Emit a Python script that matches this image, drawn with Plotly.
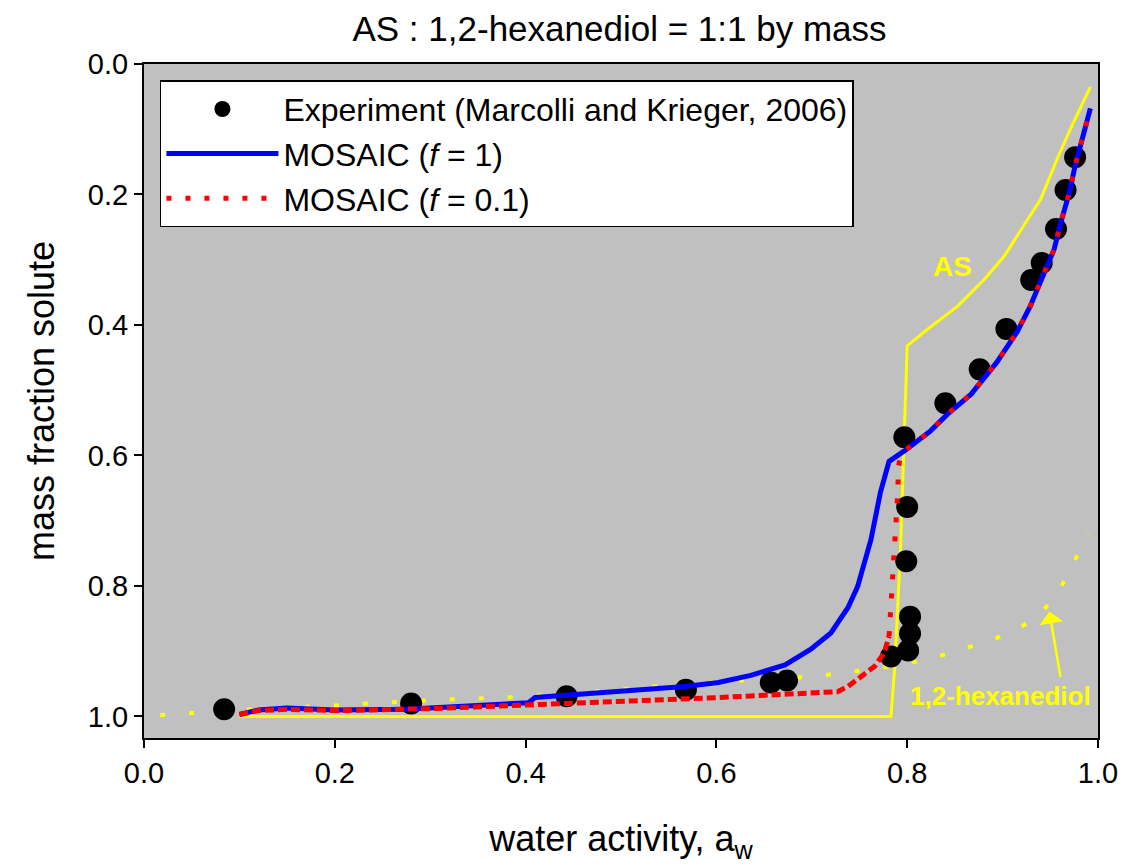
import plotly.graph_objects as go

# Experimental data (Marcolli and Krieger, 2006)
exp_aw = [0.084, 0.280, 0.443, 0.568, 0.657, 0.674, 0.783, 0.797, 0.800, 0.799,
          0.803, 0.803, 0.801, 0.840, 0.876, 0.904, 0.930, 0.941, 0.956, 0.966, 0.976]
exp_mf = [0.989, 0.980, 0.969, 0.959, 0.948, 0.945, 0.908, 0.572, 0.679, 0.762,
          0.847, 0.873, 0.899, 0.520, 0.468, 0.406, 0.331, 0.305, 0.253, 0.193, 0.143]

# MOSAIC f = 1
f1_aw = [0.100, 0.120, 0.150, 0.180, 0.200, 0.275, 0.344, 0.403, 0.410, 0.463, 0.532,
         0.567, 0.602, 0.636, 0.672, 0.699, 0.720, 0.738, 0.748, 0.762, 0.772, 0.781,
         0.797, 0.824, 0.842, 0.867, 0.894, 0.915, 0.929, 0.941, 0.954, 0.961, 0.970,
         0.976, 0.985, 0.992]
f1_mf = [0.997, 0.990, 0.987, 0.989, 0.990, 0.989, 0.984, 0.979, 0.971, 0.965, 0.957,
         0.954, 0.948, 0.937, 0.921, 0.897, 0.872, 0.833, 0.801, 0.729, 0.656, 0.609,
         0.593, 0.563, 0.537, 0.506, 0.457, 0.411, 0.371, 0.330, 0.284, 0.243, 0.197,
         0.156, 0.110, 0.068]

# MOSAIC f = 0.1 (lower branch, drawn dashed)
f01_low_aw = [0.100, 0.120, 0.150, 0.200, 0.300, 0.393, 0.497, 0.602, 0.672, 0.727,
              0.738, 0.748, 0.766, 0.776, 0.781]
f01_low_mf = [0.997, 0.991, 0.989, 0.991, 0.988, 0.982, 0.977, 0.971, 0.966, 0.962,
              0.954, 0.943, 0.923, 0.902, 0.877]
# MOSAIC f = 0.1 (upper branch, drawn dotted)
f01_high_aw = [0.781, 0.783, 0.785, 0.787, 0.788, 0.790, 0.791, 0.793, 0.797, 0.824,
               0.842, 0.867, 0.894, 0.915, 0.929, 0.941, 0.954, 0.961, 0.970, 0.976,
               0.985, 0.992]
f01_high_mf = [0.877, 0.833, 0.790, 0.744, 0.702, 0.660, 0.616, 0.600, 0.593, 0.563,
               0.537, 0.506, 0.457, 0.411, 0.371, 0.330, 0.284, 0.243, 0.197, 0.156,
               0.110, 0.068]

# Pure AS
as_aw = [0.100, 0.783, 0.787, 0.793, 0.797, 0.800, 0.821, 0.839, 0.853, 0.881, 0.902,
         0.922, 0.940, 0.957, 0.971, 0.992]
as_mf = [1.000, 1.000, 0.923, 0.744, 0.564, 0.432, 0.407, 0.386, 0.371, 0.330, 0.294,
         0.248, 0.207, 0.146, 0.100, 0.035]

# Pure 1,2-hexanediol
hx_aw = [0.017, 0.100, 0.200, 0.300, 0.380, 0.470, 0.550, 0.600, 0.700, 0.750, 0.800,
         0.830, 0.860, 0.890, 0.915, 0.940, 0.960, 0.975, 0.990]
hx_mf = [0.998, 0.990, 0.983, 0.975, 0.971, 0.962, 0.952, 0.947, 0.939, 0.930, 0.919,
         0.909, 0.896, 0.882, 0.867, 0.843, 0.805, 0.764, 0.720]

x_ticks = [0.0, 0.2, 0.4, 0.6, 0.8, 1.0]
y_ticks = [0.0, 0.2, 0.4, 0.6, 0.8, 1.0]

FONT = "Liberation Sans, Arial, sans-serif"
YELLOW = "#FFFF00"

fig = go.Figure()
fig.add_trace(go.Scatter(x=hx_aw, y=hx_mf, mode="lines", showlegend=False,
                         line=dict(color=YELLOW, width=4, dash="5px,24px")))
fig.add_trace(go.Scatter(x=as_aw, y=as_mf, mode="lines", showlegend=False,
                         line=dict(color=YELLOW, width=3)))
fig.add_trace(go.Scatter(x=exp_aw, y=exp_mf, mode="markers",
                         name="Experiment (Marcolli and Krieger, 2006)", legendrank=1,
                         marker=dict(color="black", size=22)))
fig.add_trace(go.Scatter(x=f1_aw, y=f1_mf, mode="lines", name="MOSAIC (<i>f</i> = 1)",
                         legendrank=2, line=dict(color="#0000FF", width=5)))
fig.add_trace(go.Scatter(x=f01_low_aw, y=f01_low_mf, mode="lines", showlegend=False,
                         line=dict(color="#FF0000", width=5, dash="9px,4px")))
fig.add_trace(go.Scatter(x=f01_high_aw, y=f01_high_mf, mode="lines",
                         name="MOSAIC (<i>f</i> = 0.1)", legendrank=3,
                         line=dict(color="#FF0000", width=5, dash="5px,14px")))

axis_common = dict(showline=True, linecolor="black", linewidth=2, mirror=True,
                   ticks="outside", ticklen=8, tickwidth=1.5, tickcolor="black",
                   showgrid=False, zeroline=False, tickformat=".1f",
                   tickfont=dict(family=FONT, size=29, color="black"))

fig.update_layout(
    width=1122, height=860,
    margin=dict(l=136, r=29, t=56, b=130),
    paper_bgcolor="white", plot_bgcolor="#C0C0C0",
    font=dict(family=FONT, color="black"),
    title=dict(text="AS : 1,2-hexanediol = 1:1 by mass", x=0.545, xanchor="center",
               y=1 - 21 / 860, yanchor="middle", yref="container",
               font=dict(family=FONT, size=35, color="black")),
    xaxis=dict(range=[0, 1], tickvals=x_ticks,
               title=dict(text="water activity, a<sub>w</sub>", standoff=38,
                          font=dict(family=FONT, size=36, color="black")),
               **axis_common),
    yaxis=dict(range=[1.033, 0], tickvals=y_ticks,
               title=dict(text="mass fraction solute", standoff=22,
                          font=dict(family=FONT, size=36, color="black")),
               **axis_common),
    legend=dict(x=0.0167, y=0.976, xanchor="left", yanchor="top",
                bgcolor="white", bordercolor="black", borderwidth=1.5,
                font=dict(family=FONT, size=32, color="black"),
                itemwidth=112, tracegroupgap=0),
    annotations=[
        dict(x=0.847, y=0.311, xref="x", yref="y", text="<b>AS</b>", showarrow=False,
             font=dict(family=FONT, size=28, color=YELLOW)),
        dict(x=0.898, y=0.969, xref="x", yref="y", text="<b>1,2-hexanediol</b>",
             showarrow=False, font=dict(family=FONT, size=26, color=YELLOW)),
        dict(x=0.949, y=0.839, ax=0.961, ay=0.942, xref="x", yref="y", axref="x",
             ayref="y", text="", showarrow=True, arrowhead=1, arrowsize=1.6,
             arrowwidth=2.5, arrowcolor=YELLOW),
    ],
)

fig.write_html("out.html")
